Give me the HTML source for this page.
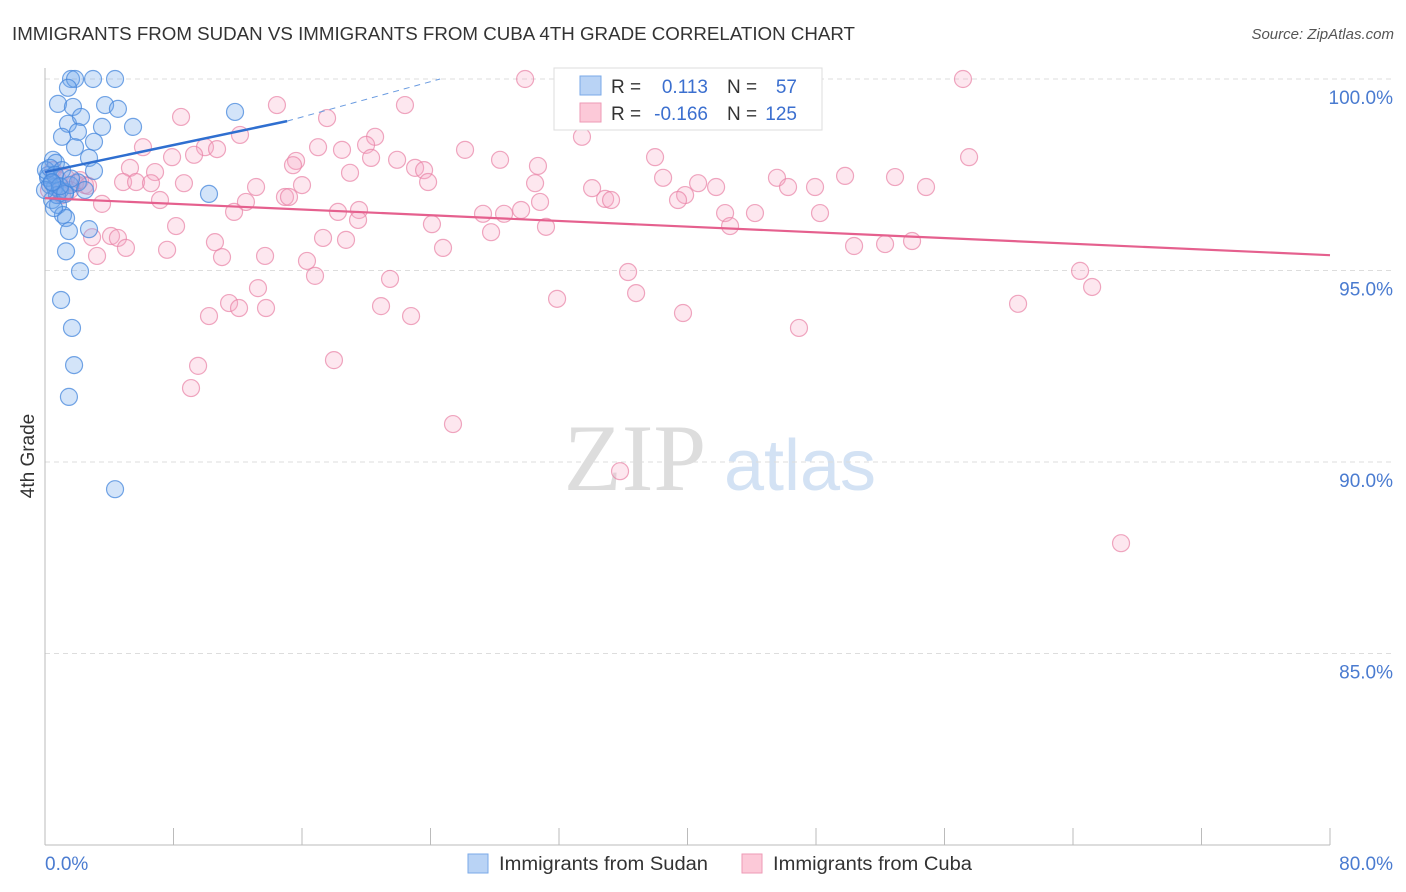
<!DOCTYPE html>
<html><head><meta charset="utf-8"><style>
body{margin:0;background:#fff;font-family:"Liberation Sans",sans-serif}
svg{display:block}
</style></head><body>
<svg id="chart" width="1406" height="892">
<text x="12" y="40" font-size="18" fill="#333" textLength="843" lengthAdjust="spacingAndGlyphs">IMMIGRANTS FROM SUDAN VS IMMIGRANTS FROM CUBA 4TH GRADE CORRELATION CHART</text>
<text x="1394" y="39" font-size="15" fill="#555" font-style="italic" text-anchor="end">Source: ZipAtlas.com</text>
<g><text x="635" y="490" font-size="95" fill="#ddd" font-family="Liberation Serif" text-anchor="middle">ZIP</text><text x="800" y="490" font-size="72" fill="#d3e2f4" text-anchor="middle">atlas</text></g>
<text x="34" y="456" font-size="19" fill="#333" text-anchor="middle" transform="rotate(-90 34 456)">4th Grade</text>
<g id="grid"></g><g id="axes"></g><g id="pts"></g><g id="trends"></g>
<g>
<rect x="554" y="68" width="268" height="62" fill="#fff" stroke="#ddd"/>
<rect x="580" y="76" width="21" height="19" fill="#b9d3f5" stroke="#7aa9e8"/>
<rect x="580" y="103" width="21" height="19" fill="#fcc9d8" stroke="#ee9ab6"/>
<text x="611" y="93" font-size="19" fill="#333">R =</text><text x="708" y="93" font-size="19" fill="#3b6fcf" text-anchor="end">0.113</text>
<text x="727" y="93" font-size="19" fill="#333">N =</text><text x="797" y="93" font-size="19" fill="#3b6fcf" text-anchor="end">57</text>
<text x="611" y="120" font-size="19" fill="#333">R =</text><text x="708" y="120" font-size="19" fill="#3b6fcf" text-anchor="end">-0.166</text>
<text x="727" y="120" font-size="19" fill="#333">N =</text><text x="797" y="120" font-size="19" fill="#3b6fcf" text-anchor="end">125</text>
</g>
<g><rect x="468" y="854" width="20" height="19" fill="#b9d3f5" stroke="#7aa9e8"/><text x="499" y="870" font-size="19" fill="#333" textLength="209" lengthAdjust="spacingAndGlyphs">Immigrants from Sudan</text></g>
<g><rect x="742" y="854" width="20" height="19" fill="#fcc9d8" stroke="#ee9ab6"/><text x="773" y="870" font-size="19" fill="#333" textLength="199" lengthAdjust="spacingAndGlyphs">Immigrants from Cuba</text></g>
</svg>
<script>
const yTicks=[100,95,90,85];
const yTickLabels=["100.0%","95.0%","90.0%","85.0%"];
const xTickLabels=["0.0%","80.0%"];
const sudanX=[1.62,1.87,2.99,4.36,1.43,0.81,1.74,3.74,4.54,1.43,2.24,1.06,2.05,5.48,3.55,1.87,3.05,2.74,0.5,0.68,3.05,0.19,0.31,0.62,0.93,1.25,0.44,0.81,1.12,1.31,1.49,2.74,1.31,2.18,1.0,1.68,1.81,1.49,4.36,11.83,10.21,0.19,0.44,0.75,0.56,0.06,0.31,1.06,1.56,0,2.05,1.25,0.62,0.93,2.49,1.62,0.44];
const sudanY=[100,100,100,100,99.77,99.35,99.27,99.32,99.22,98.83,99.01,98.49,98.62,98.75,98.75,98.22,98.36,97.94,97.89,97.81,97.6,97.49,97.23,97.18,97.1,97.05,96.84,96.71,96.45,96.37,96.03,96.08,95.5,94.98,94.23,93.5,92.53,91.7,89.29,99.14,97.0,97.42,97.31,96.97,96.63,97.62,97.68,97.62,97.23,97.1,97.3,97.0,97.5,97.2,97.1,97.4,97.3];
const cubaX=[29.89,57.15,14.44,22.41,8.47,17.56,12.14,20.55,33.43,26.15,9.96,19.99,17.0,18.49,9.28,7.91,37.98,57.53,28.33,30.69,15.63,21.92,23.04,23.6,20.3,15.44,5.29,6.85,18.99,23.85,6.1,10.71,30.51,38.48,45.57,49.81,52.92,54.85,46.26,47.94,34.06,40.66,41.78,39.85,34.87,35.24,30.82,39.41,13.14,16.0,8.65,4.86,5.67,6.6,14.94,15.19,7.16,3.55,12.51,11.77,18.24,19.55,19.49,27.27,28.58,29.64,42.34,44.2,48.25,24.09,31.19,42.65,27.77,8.16,17.31,18.74,50.37,52.3,53.98,2.93,4.11,4.54,3.24,5.04,7.6,10.58,24.78,13.7,11.02,16.31,16.81,36.3,64.44,65.19,21.48,13.26,36.8,31.88,11.46,12.08,13.76,10.21,20.92,22.79,60.58,39.72,46.94,17.99,9.53,9.09,25.4,35.8,66.99,0.5,0.81,1.31,1.87,2.49,1.06,0.25,1.56,2.18,2.68];
const cubaY=[100,100,99.32,99.32,99.01,98.98,98.54,98.49,98.49,98.15,98.22,98.28,98.22,98.15,98.02,97.96,97.96,97.96,97.89,97.73,97.86,97.89,97.68,97.62,97.94,97.75,97.68,97.57,97.55,97.31,98.22,98.17,97.28,97.42,97.42,97.47,97.44,97.18,97.18,97.18,97.15,97.28,97.18,96.97,96.87,96.84,96.79,96.84,97.18,97.23,97.28,97.31,97.31,97.28,96.92,96.92,96.84,96.74,96.79,96.53,96.53,96.58,96.32,96.48,96.48,96.58,96.5,96.5,96.5,96.21,96.14,96.16,96.0,96.16,95.85,95.8,95.64,95.69,95.77,95.87,95.9,95.85,95.38,95.59,95.54,95.74,95.59,95.38,95.35,95.25,94.86,94.96,94.99,94.57,94.78,94.54,94.41,94.26,94.15,94.02,94.02,93.81,94.07,93.81,94.13,93.89,93.5,92.66,92.51,91.93,90.99,89.76,87.88,97.62,97.36,97.42,97.28,97.23,96.97,97.1,97.1,97.36,97.21];
const sudanTrend=[[0,97.57],[15.07,98.9]];
const sudanTrendExt=[[15.07,98.9],[24.6,100]];
const cubaTrend=[[0,96.89],[80,95.4]];
const X0=45,X1=1330,Ytop=79,Ybot=845;
const xs=v=>X0+(v/80)*(X1-X0);
const ys=v=>Ytop+(100-v)*((Ybot-Ytop)/20);
const NS="http://www.w3.org/2000/svg";
function mk(tag,attrs,parent){const e=document.createElementNS(NS,tag);for(const k in attrs)e.setAttribute(k,attrs[k]);parent.appendChild(e);return e;}
const grid=document.getElementById('grid'),axes=document.getElementById('axes'),pts=document.getElementById('pts'),tr=document.getElementById('trends');
yTicks.forEach((t,i)=>{
 const l=mk('line',{x1:X0,x2:1392,y1:ys(t),y2:ys(t),stroke:'#ddd','stroke-dasharray':'5,4'},grid);
 
 
 const tx=mk('text',{x:1393,y:ys(t)+25,'font-size':19,fill:'#4a7bd0','text-anchor':'end'},axes);
 tx.textContent=yTickLabels[i];
 
 
});
const al=mk('line',{x1:X0,x2:X0,y1:68,y2:Ybot,stroke:'#bbb'},axes);


const bl=mk('line',{x1:X0,x2:X1,y1:Ybot,y2:Ybot,stroke:'#bbb'},axes);


for(let i=0;i<=10;i++){
 const t=mk('line',{x1:xs(i*8),x2:xs(i*8),y1:828,y2:Ybot,stroke:'#bbb'},axes);
 
 
}
const xl0=mk('text',{x:45,y:870,'font-size':19,fill:'#4a7bd0'},axes);xl0.textContent=xTickLabels[0];


const xl1=mk('text',{x:1393,y:870,'font-size':19,fill:'#4a7bd0','text-anchor':'end'},axes);xl1.textContent=xTickLabels[1];


cubaX.forEach((v,i)=>{
 const c=mk('circle',{cx:xs(v),cy:ys(cubaY[i]),r:8.5,fill:'rgba(248,170,196,0.28)',stroke:'rgba(232,130,165,0.7)','stroke-width':1.2},pts);
 
 
});
sudanX.forEach((v,i)=>{
 const c=mk('circle',{cx:xs(v),cy:ys(sudanY[i]),r:8.5,fill:'rgba(110,165,235,0.3)',stroke:'rgba(70,135,220,0.75)','stroke-width':1.2},pts);
 
 
});
const t1=mk('line',{x1:xs(sudanTrend[0][0]),y1:ys(sudanTrend[0][1]),x2:xs(sudanTrend[1][0]),y2:ys(sudanTrend[1][1]),stroke:'#2f6fd0','stroke-width':2.5},tr);


const t2=mk('line',{x1:xs(sudanTrendExt[0][0]),y1:ys(sudanTrendExt[0][1]),x2:xs(sudanTrendExt[1][0]),y2:ys(sudanTrendExt[1][1]),stroke:'#6a9be0','stroke-width':1,'stroke-dasharray':'6,5'},tr);


const t3=mk('line',{x1:xs(cubaTrend[0][0]),y1:ys(cubaTrend[0][1]),x2:xs(cubaTrend[1][0]),y2:ys(cubaTrend[1][1]),stroke:'#e5608e','stroke-width':2.2},tr);


</script>
</body></html>
